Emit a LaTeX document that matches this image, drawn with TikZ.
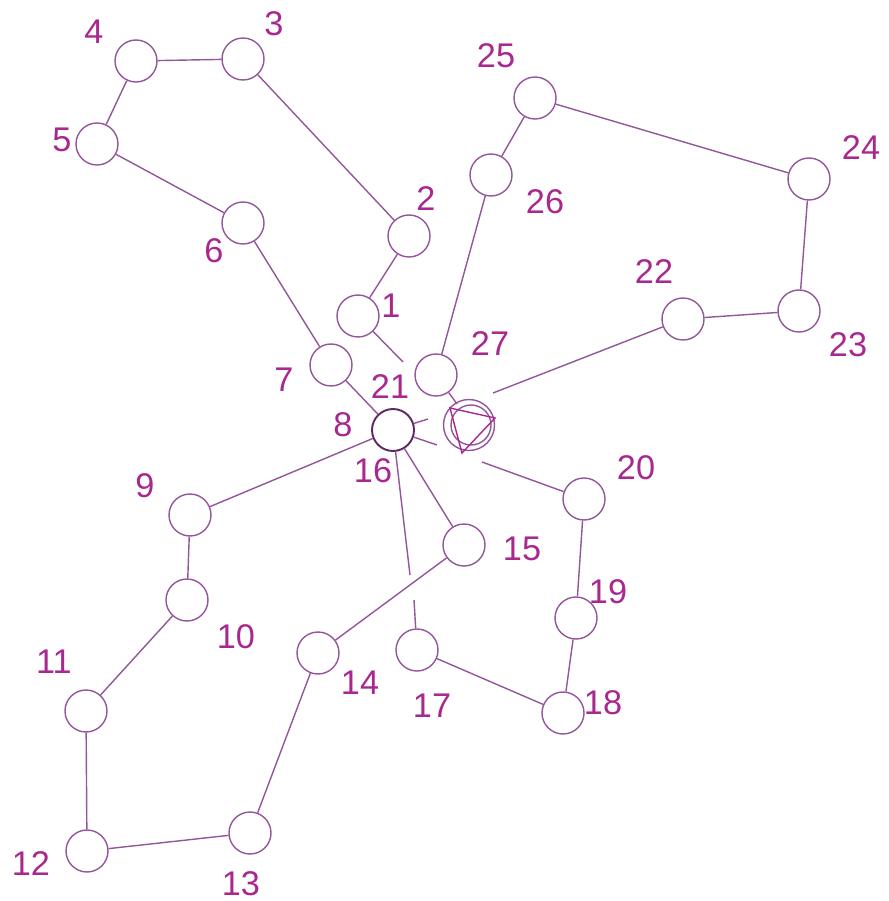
\documentclass[tikz,border=0pt]{standalone}
\usepackage{fontspec}
\setmainfont{Liberation Sans}
\usetikzlibrary{positioning, calc}
\usepackage{xcolor}
\definecolor{ringpurple}{HTML}{93569A}
\definecolor{textpurple}{HTML}{A8288F}
\definecolor{hubpurple}{HTML}{5E2A62}

\begin{document}
\begin{tikzpicture}[
    x=0.02cm, y=-0.02cm,
    site/.style={circle, draw=ringpurple, line width=0.8pt, minimum size=0.84cm, inner sep=0pt},
    hub/.style={circle, draw=hubpurple, line width=1.1pt, minimum size=0.84cm, inner sep=0pt},
    num/.style={font=\fontsize{19.5}{19.5}\selectfont, text=textpurple, inner sep=0pt},
    link/.style={draw=ringpurple, line width=0.8pt},
]
\useasboundingbox (0,0) rectangle (888,901);

% Sites
\node[site] (s1) at (358,316) {};
\node[site] (s2) at (409,236) {};
\node[site] (s3) at (243,59) {};
\node[site] (s4) at (136,61) {};
\node[site] (s5) at (97,144) {};
\node[site] (s6) at (243,223) {};
\node[site] (s7) at (331,365) {};
\node[hub] (s8) at (393,430) {};
\node[site] (s9) at (190,515) {};
\node[site] (s10) at (187,600) {};
\node[site] (s11) at (86,711) {};
\node[site] (s12) at (87,851) {};
\node[site] (s13) at (250,833) {};
\node[site] (s14) at (318,653) {};
\node[site] (s15) at (464,545) {};
\node[site] (s17) at (417,650) {};
\node[site] (s18) at (563,713) {};
\node[site] (s19) at (576,618) {};
\node[site] (s20) at (584,499) {};
\node[site] (s22) at (683,319) {};
\node[site] (s23) at (799,311) {};
\node[site] (s24) at (809,179) {};
\node[site] (s25) at (535,98) {};
\node[site] (s26) at (491,175) {};
\node[site] (s27) at (436,375) {};

% Central mark
\node[circle, draw=ringpurple, line width=0.8pt, minimum size=1.02cm, inner sep=0pt] (ringout) at (469,425) {};
\node[circle, draw=ringpurple, line width=0.8pt, minimum size=0.8cm, inner sep=0pt] (ringin) at (471,425) {};
\coordinate (t1) at (450,408);
\coordinate (t2) at (495,418);
\coordinate (t3) at (462,453);
\draw[draw=textpurple, line width=0.8pt] (t1) -- (t2) -- (t3) -- cycle;

% Free ends
\coordinate (e1) at (403,362);
\coordinate (e16) at (410,575);
\coordinate (e17) at (414,600);
\coordinate (e20) at (482,462);
\coordinate (e21a) at (428,419);
\coordinate (e21b) at (437,445);
\coordinate (e22) at (493,393);
\coordinate (e27) at (457,404);

% Chain
\draw[link] (s1) -- (s2) (s2) -- (s3) (s3) -- (s4) (s4) -- (s5) (s5) -- (s6) (s6) -- (s7) (s7) -- (s8);
\draw[link] (s8) -- (s9) (s9) -- (s10) (s10) -- (s11) (s11) -- (s12) (s12) -- (s13) (s13) -- (s14) (s14) -- (s15) (s15) -- (s8);
\draw[link] (s17) -- (s18) (s18) -- (s19) (s19) -- (s20);
\draw[link] (s22) -- (s23) (s23) -- (s24) (s24) -- (s25) (s25) -- (s26) (s26) -- (s27);
\draw[link] (s1) -- (e1);
\draw[link] (s8) -- (e16);
\draw[link] (e17) -- (s17);
\draw[link] (s20) -- (e20);
\draw[link] (s8) -- (e21a);
\draw[link] (s8) -- (e21b);
\draw[link] (s22) -- (e22);
\draw[link] (s27) -- (e27);

% Numbers
\node[num] (n1) at (391,306) {1};
\node[num] (n2) at (426,199) {2};
\node[num] (n3) at (274,24) {3};
\node[num] (n4) at (94,32) {4};
\node[num] (n5) at (62,140) {5};
\node[num] (n6) at (214,251) {6};
\node[num] (n7) at (284,380) {7};
\node[num] (n8) at (343,425) {8};
\node[num] (n9) at (145,486) {9};
\node[num] (n10) at (236,637) {10};
\node[num] (n11) at (54,662) {11};
\node[num] (n12) at (31,864) {12};
\node[num] (n13) at (241,884) {13};
\node[num] (n14) at (360,683) {14};
\node[num] (n15) at (522,549) {15};
\node[num] (n16) at (373,471) {16};
\node[num] (n17) at (432,706) {17};
\node[num] (n18) at (603,703) {18};
\node[num] (n19) at (608,592) {19};
\node[num] (n20) at (636,468) {20};
\node[num] (n21) at (390,387) {21};
\node[num] (n22) at (654,272) {22};
\node[num] (n23) at (848,345) {23};
\node[num] (n24) at (861,148) {24};
\node[num] (n25) at (496,56) {25};
\node[num] (n26) at (545,202) {26};
\node[num] (n27) at (490,344) {27};

\end{tikzpicture}
\end{document}
